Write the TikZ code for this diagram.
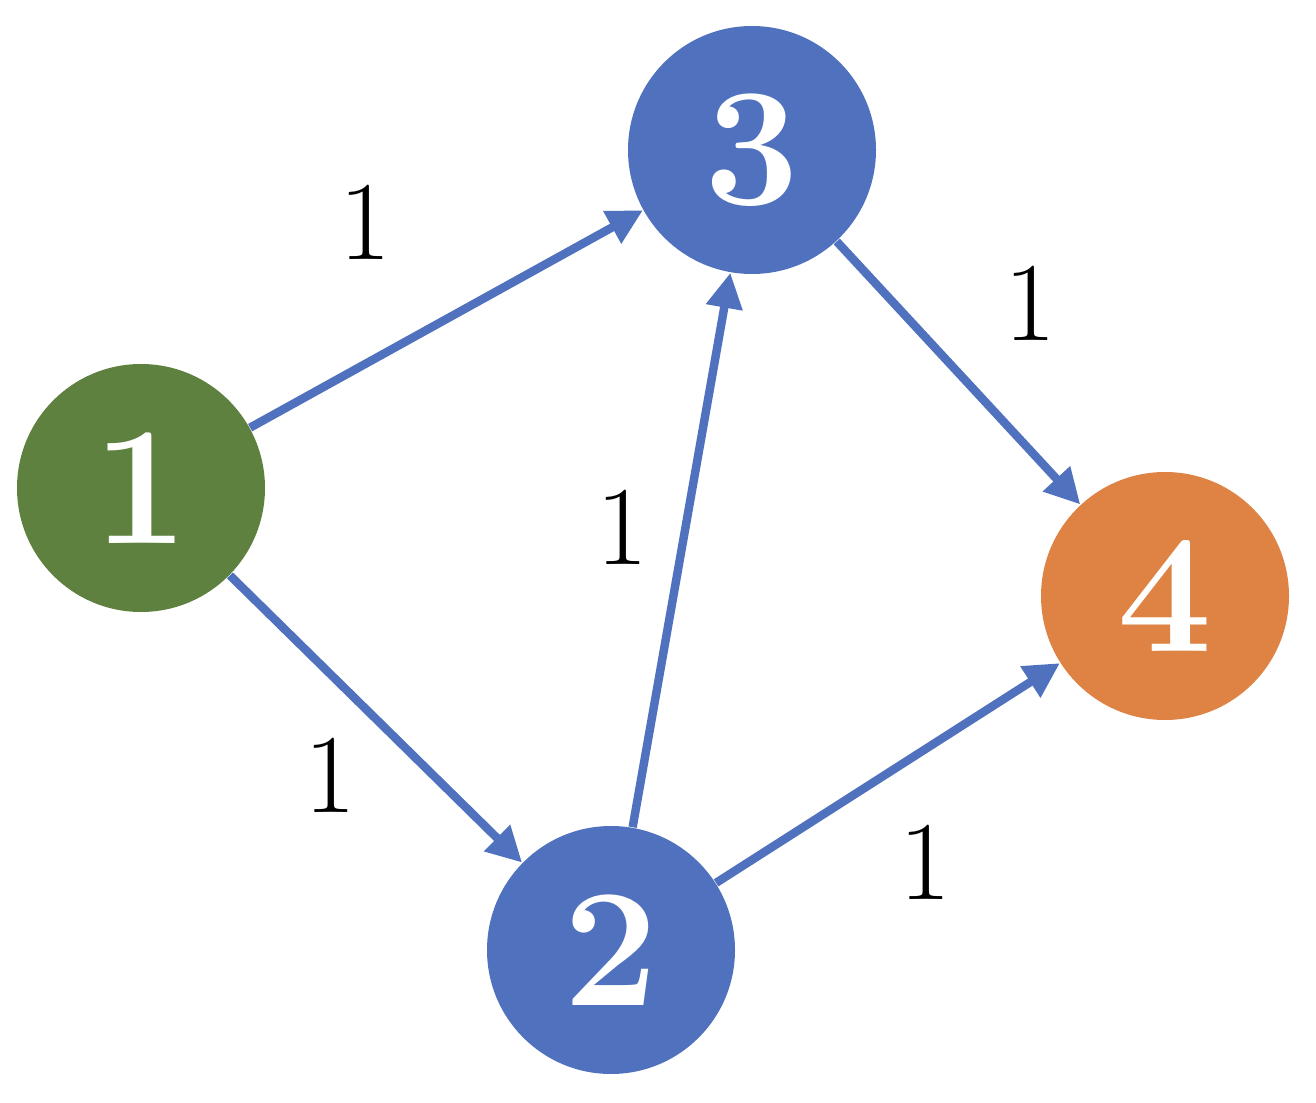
\documentclass[tikz,border=0pt]{standalone}
\usepackage{tikz}
\usetikzlibrary{arrows.meta,positioning}
\definecolor{nodeGreen}{HTML}{5F813F}
\definecolor{nodeBlue}{HTML}{5072BE}
\definecolor{nodeOrange}{HTML}{DE8344}
\tikzset{GVertex/.style={circle,minimum size=2.48cm,inner sep=0pt,text=white,font=\fontsize{48}{48}\selectfont\bfseries}}
\tikzset{GEdge/.style={draw=nodeBlue,line width=2.4pt,-{Triangle[length=10pt,width=10pt]}}}
\tikzset{GWeight/.style={font=\fontsize{32}{32}\selectfont}}
\begin{document}
\begin{tikzpicture}
\useasboundingbox (0,0) rectangle (13.16,11.02);
\node (v1) at (1.41,6.14) [GVertex,fill=nodeGreen] {1};
\node (v3) at (7.52,9.52) [GVertex,fill=nodeBlue] {3};
\node (v2) at (6.11,1.52) [GVertex,fill=nodeBlue] {2};
\node (v4) at (11.65,5.06) [GVertex,fill=nodeOrange] {4};
\draw [GEdge] (v1) -- (v3);
\draw [GEdge] (v1) -- (v2);
\draw [GEdge] (v2) -- (v3);
\draw [GEdge] (v3) -- (v4);
\draw [GEdge] (v2) -- (v4);
\node (w13) at (3.65,8.80) [GWeight] {1};
\node (w12) at (3.30,3.27) [GWeight] {1};
\node (w23) at (6.22,5.75) [GWeight] {1};
\node (w34) at (10.30,7.99) [GWeight] {1};
\node (w24) at (9.25,2.40) [GWeight] {1};
\end{tikzpicture}
\end{document}
